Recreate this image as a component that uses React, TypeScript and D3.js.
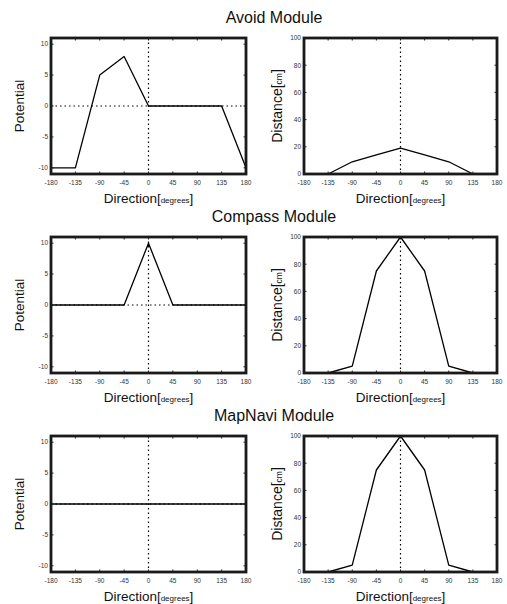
import React from 'react'
import * as d3 from 'd3'

// module rows, top to bottom
const modules = ['Avoid Module', 'Compass Module', 'MapNavi Module']

const directions = [-180, -135, -90, -45, 0, 45, 90, 135, 180]
const potentialTicks = [10, 5, 0, -5, -10]
const distanceTicks = [0, 20, 40, 60, 80, 100]

// potential per direction
const avoidPotential = [-10, -10, 5, 8, 0, 0, 0, 0, -10]
const compassPotential = [0, 0, 0, 0, 10, 0, 0, 0, 0]
const mapNaviPotential = [0, 0, 0, 0, 0, 0, 0, 0, 0]

// distance per direction
const avoidDistance = [0, 0, 9, 14, 19, 14, 9, 0, 0]
const compassDistance = [0, 0, 5, 75, 100, 75, 5, 0, 0]
const mapNaviDistance = [0, 0, 5, 75, 100, 75, 5, 0, 0]

const potentials = [avoidPotential, compassPotential, mapNaviPotential]
const distances = [avoidDistance, compassDistance, mapNaviDistance]

const W = 507
const H = 604
const rowTops = [38, 237, 436]
const plotH = 136
const cols = [
  { left: 51, right: 246 },
  { left: 304, right: 497 },
]
const font = 'Liberation Sans, Arial, Helvetica, sans-serif'

function Panel({ top, col, values, kind }: { top: number; col: number; values: number[]; kind: 'potential' | 'distance' }) {
  const { left, right } = cols[col]
  const x = d3.scaleLinear().domain([-180, 180]).range([left, right])
  const y = kind === 'potential'
    ? d3.scaleLinear().domain([-11, 11]).range([top + plotH, top])
    : d3.scaleLinear().domain([0, 100]).range([top + plotH, top])
  const yTicks = kind === 'potential' ? potentialTicks : distanceTicks
  const line = d3.line<number>().x((_, i) => x(directions[i])).y(d => y(d))
  const bottom = top + plotH
  const cx = (left + right) / 2
  const cy = (top + bottom) / 2
  const tickLen = 2.5

  return (
    <g>
      {/* dotted guides */}
      <line x1={x(0)} x2={x(0)} y1={top} y2={bottom} stroke="#000" strokeWidth={1.2} strokeDasharray="1.5,3" />
      {kind === 'potential' && (
        <line x1={left} x2={right} y1={y(0)} y2={y(0)} stroke="#000" strokeWidth={1.2} strokeDasharray="1.5,3" />
      )}
      <path d={line(values) ?? ''} fill="none" stroke="#000" strokeWidth={1.3} strokeLinejoin="round" />
      {/* ticks */}
      {directions.map(d => (
        <g key={'xt' + d}>
          <line x1={x(d)} x2={x(d)} y1={top} y2={top + tickLen} stroke="#222" strokeWidth={1} />
          <line x1={x(d)} x2={x(d)} y1={bottom} y2={bottom - tickLen} stroke="#222" strokeWidth={1} />
          <text x={x(d)} y={bottom + 11} textAnchor="middle" fontSize={6.5} fill="#333" fontFamily={font}>{d}</text>
        </g>
      ))}
      {yTicks.map(t => (
        <g key={'yt' + t}>
          <line x1={left} x2={left + tickLen} y1={y(t)} y2={y(t)} stroke="#222" strokeWidth={1} />
          <line x1={right} x2={right - tickLen} y1={y(t)} y2={y(t)} stroke="#222" strokeWidth={1} />
          <text x={left - 3} y={y(t) + 2.3} textAnchor="end" fontSize={6.5} fill="#333" fontFamily={font}>{t}</text>
        </g>
      ))}
      <rect x={left} y={top} width={right - left} height={plotH} fill="none" stroke="#1a1a1a" strokeWidth={2.8} />
      {/* axis labels */}
      <text x={cx} y={bottom + 29} textAnchor="middle" fontSize={13.5} fill="#111" fontFamily={font}>
        Direction[<tspan fontSize={8}>degrees</tspan>]
      </text>
      <text
        transform={`translate(${col === 0 ? left - 27 : left - 22},${cy}) rotate(-90)`}
        textAnchor="middle"
        fontSize={col === 0 ? 13.5 : 14}
        fill="#111"
        fontFamily={font}
      >
        {kind === 'potential' ? 'Potential' : <>Distance[<tspan fontSize={8.5}>cm</tspan>]</>}
      </text>
    </g>
  )
}

export default function App() {
  return (
    <svg width={W} height={H} style={{ position: 'absolute', left: 0, top: 0, background: '#fff' }}>
      {modules.map((m, r) => (
        <g key={m}>
          <text x={(cols[0].left + cols[1].right) / 2} y={rowTops[r] - 15} textAnchor="middle" fontSize={16} fill="#111" fontFamily={font}>
            {m}
          </text>
          <Panel top={rowTops[r]} col={0} values={potentials[r]} kind="potential" />
          <Panel top={rowTops[r]} col={1} values={distances[r]} kind="distance" />
        </g>
      ))}
    </svg>
  )
}
